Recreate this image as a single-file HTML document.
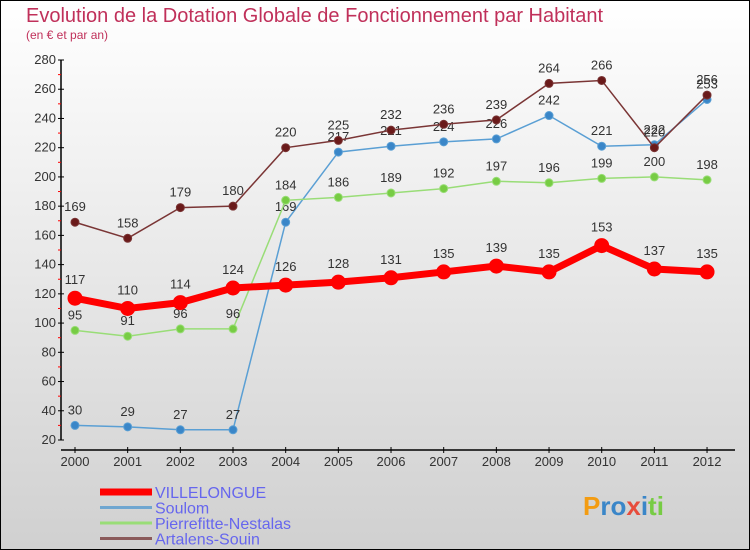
<!DOCTYPE html>
<html><head><meta charset="utf-8"><style>
body{margin:0;width:750px;height:550px;overflow:hidden}
svg{display:block;font-family:"Liberation Sans",sans-serif}
</style></head><body>
<svg id="c" width="750" height="550">
<defs><linearGradient id="bg" x1="0" y1="0" x2="0" y2="1"><stop offset="0" stop-color="#ffffff"/><stop offset="1" stop-color="#d0d0d0"/></linearGradient></defs>
<rect x="0.5" y="0.5" width="749" height="549" fill="url(#bg)" stroke="#000"/>
<text x="26" y="22" font-size="20" fill="#c0305a">Evolution de la Dotation Globale de Fonctionnement par Habitant</text>
<text x="26" y="39" font-size="12" fill="#c0305a">(en € et par an)</text>
<g id="g"></g>
</svg>
<script>
const years=["2000","2001","2002","2003","2004","2005","2006","2007","2008","2009","2010","2011","2012"];
const yTicks=[20,40,60,80,100,120,140,160,180,200,220,240,260,280];
const villelongue=[117,110,114,124,126,128,131,135,139,135,153,137,135];
const soulom=[30,29,27,27,169,217,221,224,226,242,221,222,253];
const pierrefitte=[95,91,96,96,184,186,189,192,197,196,199,200,198];
const artalens=[169,158,179,180,220,225,232,236,239,264,266,220,256];
const NS="http://www.w3.org/2000/svg";
const g=document.getElementById('g');
const X=i=>75+i*52.67;
const Y=v=>440-(v-20)*380/260;
function el(t,a,p){const e=document.createElementNS(NS,t);for(const k in a)e.setAttribute(k,a[k]);(p||g).appendChild(e);return e;}
let ax=el('line',{x1:61,y1:60,x2:61,y2:440,stroke:'#000','stroke-width':1.5});


yTicks.forEach((v,i)=>{
 el('line',{x1:58,y1:Y(v),x2:64,y2:Y(v),stroke:'#000'});
 if(i<yTicks.length-1){el('line',{x1:58,y1:Y(v+10),x2:61,y2:Y(v+10),stroke:'#f00'});}
 const t=el('text',{x:56,y:Y(v)+4,'text-anchor':'end','font-size':13,fill:'#333'});t.textContent=v;
 
 
});
let xa=el('line',{x1:61,y1:450,x2:735,y2:450,stroke:'#000','stroke-width':1.5});


years.forEach((y,i)=>{
 el('line',{x1:X(i),y1:447,x2:X(i),y2:453,stroke:'#000'});
 const t=el('text',{x:X(i),y:466,'text-anchor':'middle','font-size':13,fill:'#333'});t.textContent=y;
 
 
});
function series(name,data,col,dot,w,r){
 const gg=el('g',{});
 
 
 el('polyline',{points:data.map((v,i)=>X(i)+','+Y(v)).join(' '),fill:'none',stroke:col,'stroke-width':w},gg);
 data.forEach((v,i)=>{
  const c=el('circle',{cx:X(i),cy:Y(v),r:r,fill:dot,stroke:col,'stroke-width':1},gg);
  
  
  const t=el('text',{x:X(i),y:Y(v)-(r+7),'text-anchor':'middle','font-size':13,fill:'#333'},gg);t.textContent=v;
  
  
 });
}
series('soulom',soulom,'#5a9fd4','#3a86c8',1.5,4);
series('pierrefitte',pierrefitte,'#99dd77','#77cc44',1.5,4);
series('artalens',artalens,'#7a3535','#6a1a1a',1.5,4);
series('villelongue',villelongue,'#ff0000','#ff0000',7,7);
const leg=[['VILLELONGUE','#ff0000',7],['Soulom','#6fa6d0',3],['Pierrefitte-Nestalas','#99dd77',3],['Artalens-Souin','#8a5a5a',3]];
leg.forEach((l,i)=>{
 const y=492+i*15.5;
 const gg=el('g',{});
 
 
 el('line',{x1:100,y1:y,x2:152,y2:y,stroke:l[1],'stroke-width':l[2]},gg);
 const t=el('text',{x:155,y:y+6,'font-size':16,fill:'#6666ee'},gg);t.textContent=l[0];
});
const p=el('text',{x:583,y:515,'font-size':26,'font-weight':'bold',fill:'#3a86c8'});
p.innerHTML='<tspan fill="#f39c12">P</tspan><tspan fill="#3a86c8">ro</tspan><tspan fill="#e74c3c">x</tspan><tspan fill="#3a86c8">i</tspan><tspan fill="#77cc44">ti</tspan>';


</script>
</body></html>
